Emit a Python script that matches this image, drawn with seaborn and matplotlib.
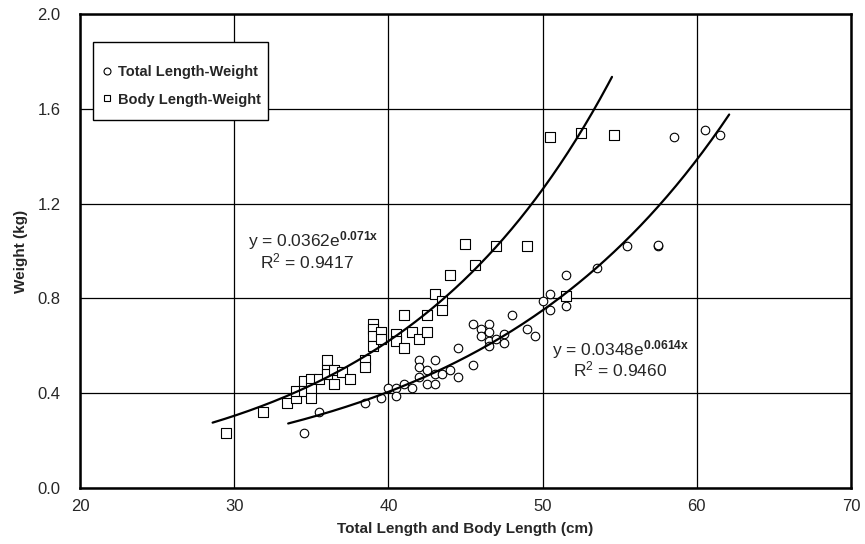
import numpy as np
import pandas as pd
import matplotlib
matplotlib.use("Agg")
import matplotlib.pyplot as plt
from matplotlib.lines import Line2D
from matplotlib.patches import Rectangle
import seaborn as sns

# ---- data ----
body_x = [29.5, 31.9, 33.4, 34.0, 34.0, 34.5, 34.5, 35.0, 35.0, 35.0, 35.5,
          36.0, 36.0, 36.0, 36.5, 36.5, 37.0, 37.5, 38.5, 38.5, 39.0, 39.0,
          39.0, 39.0, 39.5, 39.5, 40.5, 40.5, 41.0, 41.0, 41.5, 42.0, 42.5,
          42.5, 43.0, 43.5, 43.5, 44.0, 45.0, 45.6, 47.0, 49.0, 50.5, 52.5,
          54.6, 51.5]
body_y = [0.23, 0.32, 0.36, 0.38, 0.41, 0.45, 0.41, 0.46, 0.42, 0.38, 0.46,
          0.54, 0.50, 0.48, 0.50, 0.44, 0.49, 0.46, 0.54, 0.51, 0.69, 0.67,
          0.64, 0.60, 0.66, 0.63, 0.65, 0.62, 0.73, 0.59, 0.66, 0.63, 0.73,
          0.66, 0.82, 0.79, 0.75, 0.90, 1.03, 0.94, 1.02, 1.02, 1.48, 1.50,
          1.49, 0.81]

total_x = [34.5, 35.5, 38.5, 39.5, 40.0, 40.5, 40.5, 41.0, 41.5, 42.0, 42.0,
           42.0, 42.5, 42.5, 43.0, 43.0, 43.0, 43.5, 44.0, 44.5, 44.5, 45.5,
           45.5, 46.0, 46.0, 46.5, 46.5, 46.5, 46.5, 47.0, 47.5, 47.5, 48.0,
           49.0, 49.5, 50.0, 50.5, 50.5, 51.5, 51.5, 53.5, 55.5, 57.5, 57.5,
           58.5, 60.5, 61.5]
total_y = [0.23, 0.32, 0.36, 0.38, 0.42, 0.42, 0.39, 0.44, 0.42, 0.54, 0.51,
           0.47, 0.50, 0.44, 0.54, 0.48, 0.44, 0.48, 0.50, 0.59, 0.47, 0.52,
           0.69, 0.67, 0.64, 0.69, 0.66, 0.62, 0.60, 0.63, 0.65, 0.61, 0.73,
           0.67, 0.64, 0.79, 0.82, 0.75, 0.90, 0.77, 0.93, 1.02, 1.02, 1.025,
           1.48, 1.51, 1.49]

# trendline coefficients printed on the chart
body_a, body_b, body_range = 0.0362, 0.071, (28.6, 54.5)
total_a, total_b, total_range = 0.0348, 0.0614, (33.5, 62.1)

series_labels = ["Total Length-Weight", "Body Length-Weight"]
x_ticks = [20, 30, 40, 50, 60, 70]
y_ticks = [0.0, 0.4, 0.8, 1.2, 1.6, 2.0]

# ---- styling ----
sns.set_style("white")
plt.rcParams["font.family"] = ["Liberation Sans", "DejaVu Sans"]
plt.rcParams["mathtext.fontset"] = "custom"
plt.rcParams["mathtext.rm"] = "Liberation Sans"
plt.rcParams["mathtext.bf"] = "Liberation Sans:bold"
plt.rcParams["mathtext.it"] = "Liberation Sans"

fig = plt.figure(figsize=(8.65, 5.44), dpi=100)
ax = fig.add_axes([80 / 865, 1 - 488 / 544, 771 / 865, 474 / 544])

df_b = pd.DataFrame({"x": body_x, "y": body_y})
df_t = pd.DataFrame({"x": total_x, "y": total_y})

sns.scatterplot(data=df_b, x="x", y="y", marker="s", s=48, facecolor="white",
                edgecolor="black", linewidth=0.8, ax=ax, zorder=3)
sns.scatterplot(data=df_t, x="x", y="y", marker="o", s=38, facecolor="white",
                edgecolor="black", linewidth=0.8, ax=ax, zorder=3)

xb = np.linspace(*body_range, 200)
xt = np.linspace(*total_range, 200)
cb = pd.DataFrame({"x": xb, "y": body_a * np.exp(body_b * xb)})
ct = pd.DataFrame({"x": xt, "y": total_a * np.exp(total_b * xt)})
sns.lineplot(data=cb, x="x", y="y", color="black", linewidth=1.6, ax=ax, zorder=4)
sns.lineplot(data=ct, x="x", y="y", color="black", linewidth=1.6, ax=ax, zorder=4)

ax.set_xlim(20, 70)
ax.set_ylim(0, 2.0)
ax.set_xticks(x_ticks)
ax.set_yticks(y_ticks)
ax.set_xticklabels([str(v) for v in x_ticks])
ax.set_yticklabels([f"{v:.1f}" for v in y_ticks])
ax.tick_params(axis="both", length=0, labelsize=12)
ax.tick_params(axis="y", pad=14)
ax.tick_params(axis="x", pad=8)
ax.grid(True, color="black", linewidth=0.9)
ax.set_axisbelow(True)
for sp in ax.spines.values():
    sp.set_color("black")
    sp.set_linewidth(1.8)

ax.set_xlabel("Total Length and Body Length (cm)", fontsize=11, fontweight="bold",
              labelpad=6)
ax.set_ylabel("Weight (kg)", fontsize=11, fontweight="bold", labelpad=7)

# equations
eq_kw = dict(fontsize=12.5, va="center", ha="left", zorder=5)
ax.text(30.9, 1.042, r"y = 0.0362e$^{\mathbf{0.071x}}$", **eq_kw)
ax.text(31.7, 0.958, r"R$^{2}$ = 0.9417", **eq_kw)
ax.text(50.6, 0.586, r"y = 0.0348e$^{\mathbf{0.0614x}}$", **eq_kw)
ax.text(52.0, 0.502, r"R$^{2}$ = 0.9460", **eq_kw)

# legend box
box = Rectangle((13 / 771, (488 - 120) / 474), 175 / 771, 78 / 474,
                transform=ax.transAxes, facecolor="white", edgecolor="black",
                linewidth=1.0, zorder=6)
ax.add_patch(box)
handles = [
    Line2D([], [], marker="o", linestyle="none", markersize=5, markerfacecolor="white",
           markeredgecolor="black", markeredgewidth=0.8),
    Line2D([], [], marker="s", linestyle="none", markersize=5, markerfacecolor="white",
           markeredgecolor="black", markeredgewidth=0.8),
]
leg = ax.legend(handles, series_labels, loc="center left",
                bbox_to_anchor=(22 / 771, (488 - 86) / 474), borderaxespad=0,
                borderpad=0, frameon=False,
                prop={"family": "Liberation Sans", "weight": "bold", "size": 10.5},
                handlelength=0.7, handletextpad=0.4, labelspacing=0.9)
leg.set_zorder(7)

fig.savefig("out.png", dpi=100)
